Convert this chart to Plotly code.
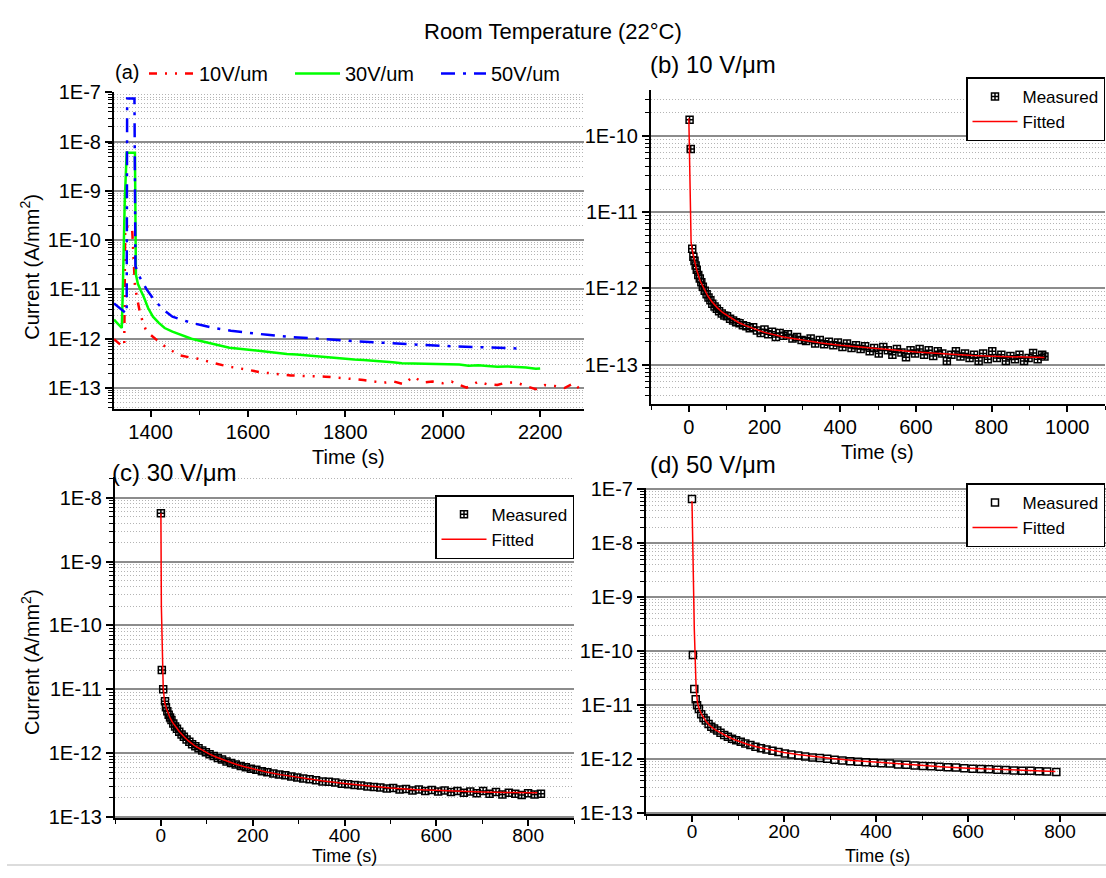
import plotly.graph_objects as go

W, H = 1106, 878

# ---------------- Panel (a) data ----------------
t_10 = [1325, 1333, 1341, 1346, 1348, 1362, 1368, 1372, 1378, 1384, 1390, 1400, 1410, 1425, 1440,
        1460, 1480, 1500, 1530, 1562, 1595, 1625, 1655, 1688, 1720, 1759, 1798, 1837, 1877, 1900,
        1920, 1939, 1960, 1979, 2000, 2018, 2035, 2049, 2073, 2090, 2112, 2130, 2151, 2170, 2191,
        2210, 2230, 2250, 2269, 2285]
i_10 = [9.8e-13, 8.5e-13, 7.2e-13, 7.0e-13, 1.9e-10, 1.9e-10, 1.2e-11, 7e-12, 3.5e-12, 2.2e-12,
        1.55e-12, 1.2e-12, 9.8e-13, 7.5e-13, 6.0e-13, 4.6e-13, 4.2e-13, 3.9e-13, 3.2e-13, 2.7e-13,
        2.4e-13, 2.1e-13, 1.95e-13, 1.8e-13, 1.75e-13, 1.7e-13, 1.58e-13, 1.45e-13, 1.28e-13, 1.35e-13,
        1.2e-13, 1.7e-13, 1.3e-13, 1.35e-13, 1.25e-13, 1.35e-13, 1.15e-13, 1.02e-13, 1.35e-13, 1.2e-13,
        1.15e-13, 1.3e-13, 1.3e-13, 1.1e-13, 9.5e-14, 1.15e-13, 1.1e-13, 1.0e-13, 1.25e-13, 8.8e-14]

t_30 = [1325, 1333, 1341, 1343, 1347, 1351, 1360, 1368, 1370, 1374, 1380, 1386, 1395, 1405, 1417,
        1429, 1445, 1460, 1484, 1503, 1523, 1542, 1562, 1582, 1602, 1621, 1641, 1660, 1680, 1700,
        1720, 1740, 1759, 1778, 1798, 1818, 1837, 1857, 1877, 1897, 1916, 1935, 1955, 1975, 1994,
        2014, 2034, 2053, 2073, 2092, 2112, 2131, 2151, 2171, 2191, 2200]
i_30 = [2.45e-12, 2.0e-12, 1.65e-12, 8.9e-12, 5.9e-10, 5.9e-9, 5.9e-9, 5.9e-9, 2.0e-11, 1.3e-11,
        9.5e-12, 7.1e-12, 4.2e-12, 2.8e-12, 2.1e-12, 1.65e-12, 1.4e-12, 1.22e-12, 1.0e-12, 9.0e-13,
        8.1e-13, 7.3e-13, 6.6e-13, 6.3e-13, 6.0e-13, 5.6e-13, 5.3e-13, 5.1e-13, 4.9e-13, 4.8e-13,
        4.6e-13, 4.4e-13, 4.2e-13, 4.0e-13, 3.9e-13, 3.8e-13, 3.7e-13, 3.6e-13, 3.5e-13, 3.35e-13,
        3.2e-13, 3.15e-13, 3.1e-13, 3.05e-13, 3.0e-13, 2.95e-13, 3.0e-13, 2.85e-13, 2.9e-13, 2.8e-13,
        2.7e-13, 2.75e-13, 2.7e-13, 2.6e-13, 2.45e-13, 2.5e-13]

t_50 = [1325, 1338, 1351, 1352, 1367, 1369, 1375, 1382, 1392, 1405, 1425, 1445, 1465, 1484, 1508,
        1531, 1565, 1602, 1640, 1680, 1720, 1759, 1798, 1837, 1877, 1916, 1955, 1994, 2034, 2073,
        2112, 2140, 2165]
i_50 = [5.2e-12, 4.0e-12, 3.2e-12, 7.5e-8, 7.5e-8, 3e-11, 2.0e-11, 1.5e-11, 1.0e-11, 6.6e-12,
        4.0e-12, 2.8e-12, 2.4e-12, 2.1e-12, 1.85e-12, 1.65e-12, 1.45e-12, 1.3e-12, 1.2e-12, 1.1e-12,
        1.05e-12, 9.8e-13, 9.2e-13, 8.7e-13, 8.2e-13, 7.8e-13, 7.5e-13, 7.2e-13, 7.0e-13, 6.9e-13,
        6.7e-13, 6.5e-13, 6.3e-13]

# ---------------- Panel (b) 10 V/um (values in units of 1e-13 A/mm2) ----------------
tb_meas = [2, 5, 9, 12, 15, 18, 21, 25, 29, 33, 37, 42, 47, 52, 57, 62, 68, 74, 80, 87, 94, 101,
           109, 117, 125, 134, 143, 152, 161, 170, 180, 190, 200, 210, 220, 230, 240, 250, 262, 274,
           286, 298, 310, 322, 334, 346, 358, 370, 382, 394, 406, 418, 430, 442, 454, 466, 478, 490,
           502, 514, 526, 538, 550, 562, 574, 586, 598, 610, 622, 634, 646, 658, 670, 682, 694, 706,
           718, 730, 742, 754, 766, 778, 790, 802, 814, 826, 838, 850, 862, 874, 886, 898, 910, 922,
           934, 940]
ib_meas = [1630, 670, 33, 26, 23, 20, 17.5, 15, 13.5, 12, 10.5, 9.3, 8.4, 7.6, 7.0, 6.3, 5.8, 5.4,
           5.0, 4.7, 4.4, 4.3, 4.0, 3.8, 3.6, 3.5, 3.3, 3.2, 3.0, 3.1, 2.8, 2.6, 2.9, 2.5, 2.7, 2.3,
           2.6, 2.4, 2.5, 2.2, 2.3, 2.1, 2.05, 2.2, 1.9, 2.1, 1.85, 2.0, 1.8, 1.95, 1.7, 1.9, 1.65,
           1.8, 1.6, 1.75, 1.5, 1.65, 1.4, 1.7, 1.55, 1.35, 1.6, 1.45, 1.25, 1.55, 1.4, 1.6, 1.35,
           1.55, 1.3, 1.5, 1.4, 1.12, 1.35, 1.5, 1.28, 1.4, 1.22, 1.35, 1.12, 1.4, 1.18, 1.5, 1.22,
           1.35, 1.12, 1.3, 1.18, 1.35, 1.12, 1.22, 1.42, 1.18, 1.35, 1.28]
tb_fit = [0, 6, 10, 15, 20, 30, 40, 50, 60, 75, 90, 110, 130, 150, 175, 200, 250, 300, 350, 400,
          450, 500, 550, 600, 650, 700, 750, 800, 850, 900, 940]
ib_fit = [1700, 40, 30, 23, 18, 12.5, 9.8, 8.0, 6.8, 5.6, 4.8, 4.1, 3.6, 3.25, 2.9, 2.65, 2.3,
          2.1, 1.93, 1.8, 1.7, 1.62, 1.55, 1.47, 1.41, 1.36, 1.32, 1.29, 1.27, 1.25, 1.24]

# ---------------- Panel (c) 30 V/um ----------------
tc_meas = [0, 2, 5, 9, 11, 14, 17, 20, 23, 27, 31, 35, 40, 45, 50, 56, 62, 68, 75, 82, 90, 98,
           106, 115, 124, 133, 143, 153, 163, 174, 185, 196, 208, 220, 232, 245, 258, 271, 284, 297,
           310, 324, 338, 352, 366, 380, 394, 408, 422, 436, 450, 464, 478, 492, 506, 520, 534, 548,
           562, 576, 590, 604, 618, 632, 646, 660, 674, 688, 702, 716, 730, 744, 758, 772, 786, 800,
           814, 828]
ic_meas = [57000, 200, 100, 65, 52, 45, 40, 36, 33, 29, 26, 24, 21.5, 19.5, 18, 16.3, 15, 13.8,
           12.8, 11.9, 11, 10.3, 9.6, 9.0, 8.4, 7.9, 7.4, 7.0, 6.6, 6.3, 6.0, 5.7, 5.5, 5.2, 5.0,
           4.8, 4.6, 4.5, 4.3, 4.15, 4.0, 3.9, 3.75, 3.6, 3.55, 3.45, 3.3, 3.25, 3.15, 3.1, 3.0,
           2.95, 2.9, 2.8, 2.85, 2.7, 2.75, 2.6, 2.7, 2.55, 2.65, 2.5, 2.6, 2.45, 2.55, 2.4, 2.5,
           2.35, 2.55, 2.3, 2.45, 2.25, 2.4, 2.3, 2.2, 2.35, 2.25, 2.3]
tc_fit = [0, 1, 5, 8, 12, 16, 20, 25, 30, 40, 50, 60, 75, 90, 105, 120, 140, 160, 180, 200, 230,
          260, 300, 350, 400, 450, 500, 550, 600, 650, 700, 750, 800, 820]
ic_fit = [57000, 2000, 110, 62, 50, 41, 35.5, 30.5, 27, 21.8, 18.2, 15.5, 12.8, 11, 9.7, 8.7,
          7.6, 6.8, 6.15, 5.65, 5.05, 4.6, 4.15, 3.7, 3.35, 3.05, 2.85, 2.7, 2.6, 2.52, 2.46,
          2.42, 2.4, 2.4]

# ---------------- Panel (d) 50 V/um ----------------
td_meas = [0, 2, 5, 8, 11, 15, 20, 25, 30, 36, 42, 48, 55, 62, 70, 78, 87, 96, 106, 116, 127, 138,
           150, 162, 175, 188, 202, 216, 231, 246, 262, 278, 294, 310, 327, 344, 361, 378, 395, 412,
           430, 448, 466, 484, 502, 520, 538, 556, 574, 592, 610, 628, 646, 664, 682, 700, 718, 736,
           754, 772, 792]
id_meas = [660000, 850, 200, 130, 100, 85, 68, 58, 52, 45, 40, 37, 34, 31, 28, 26, 24, 22.5, 21,
           19.5, 18.3, 17, 16, 15.2, 14.3, 13.6, 12.8, 12.3, 11.8, 11.3, 10.8, 10.5, 10.2, 9.8,
           9.5, 9.2, 9.0, 8.8, 8.6, 8.4, 8.3, 8.0, 7.9, 7.7, 7.5, 7.4, 7.3, 7.1, 7.0, 6.8, 6.7,
           6.6, 6.5, 6.4, 6.3, 6.2, 6.15, 6.1, 6.0, 5.95, 5.8]
td_fit = [0, 2, 5, 9, 12, 15, 20, 30, 40, 50, 60, 75, 90, 105, 120, 140, 160, 180, 200, 230, 260,
          300, 350, 400, 450, 500, 550, 600, 650, 700, 750, 790]
id_fit = [600000, 63000, 2600, 200, 110, 88, 70, 51, 41, 35.5, 31.5, 27, 23.5, 21, 19, 17, 15.5,
          14.3, 13.3, 12.2, 11.3, 10.4, 9.5, 8.8, 8.2, 7.6, 7.2, 6.85, 6.55, 6.3, 6.1, 5.95]

UNIT = 1e-13

# tick labels
exps = [-13, -12, -11, -10, -9, -8, -7]
major_vals = [10.0 ** e for e in exps]
major_text = ["1E%d" % e for e in exps]
minor_vals = [k * 10.0 ** e for e in range(-14, -6) for k in range(2, 10)]

FONT = "Arial, Liberation Sans, sans-serif"


def px_x(p):
    return p / W


def px_y(p):
    return 1 - p / H


def yax(dom, rng, anchor):
    return dict(type="log", domain=[px_y(dom[1]), px_y(dom[0])], range=rng, anchor=anchor,
                tickmode="array", tickvals=major_vals, ticktext=major_text,
                ticks="outside", ticklen=7, tickwidth=1.5, tickcolor="black",
                showline=True, linecolor="black", linewidth=2,
                showgrid=True, gridcolor="#8c8c8c", gridwidth=1.5, zeroline=False,
                tickfont=dict(size=20, family=FONT, color="black"),
                minor=dict(tickmode="array", tickvals=minor_vals, ticks="outside", ticklen=4,
                           tickcolor="black", tickwidth=1, showgrid=True, gridcolor="#b4b4b4",
                           griddash="1px,2px", gridwidth=1))


def xax(dom, rng, anchor, fsize=20, standoff=-2):
    return dict(domain=[px_x(dom[0]), px_x(dom[1])], range=rng, anchor=anchor,
                tick0=0, dtick=200, ticks="outside", ticklen=6, tickwidth=1.5, tickcolor="black",
                showline=True, linecolor="black", linewidth=2, showgrid=False, zeroline=False,
                ticklabelstandoff=standoff,
                tickfont=dict(size=fsize, family=FONT, color="black"),
                minor=dict(tick0=0, dtick=100, ticks="outside", ticklen=4, tickcolor="black",
                           tickwidth=1, showgrid=False))


fig = go.Figure()

# Panel (a)
fig.add_trace(go.Scatter(x=t_10, y=i_10, mode="lines", name="10V/um", legend="legend",
                         line=dict(color="#ff0000", width=2.5, dash="8px,8px,2px,8px,2px,8px"),
                         xaxis="x", yaxis="y"))
fig.add_trace(go.Scatter(x=t_30, y=i_30, mode="lines", name="30V/um", legend="legend",
                         line=dict(color="#00ff00", width=2.5), xaxis="x", yaxis="y"))
fig.add_trace(go.Scatter(x=t_50, y=i_50, mode="lines", name="50V/um", legend="legend",
                         line=dict(color="#0000ff", width=2.5, dash="14px,8px,3px,8px"),
                         xaxis="x", yaxis="y"))

panels = [
    (tb_meas, ib_meas, tb_fit, ib_fit, "x2", "y2", "legend2", "square-cross-open"),
    (tc_meas, ic_meas, tc_fit, ic_fit, "x3", "y3", "legend3", "square-cross-open"),
    (td_meas, id_meas, td_fit, id_fit, "x4", "y4", "legend4", "square-open"),
]
for tm, im, tf, iff, xa, ya, lg, sym in panels:
    fig.add_trace(go.Scatter(x=tm, y=[v * UNIT for v in im], mode="markers", name="Measured",
                             legend=lg, marker=dict(symbol=sym, size=7, color="black",
                                                    line=dict(width=1.5, color="black")),
                             xaxis=xa, yaxis=ya))
    fig.add_trace(go.Scatter(x=tf, y=[v * UNIT for v in iff], mode="lines", name="Fitted",
                             legend=lg, line=dict(color="#ff0000", width=1.5),
                             xaxis=xa, yaxis=ya))

box_legend = dict(bgcolor="white", bordercolor="black", borderwidth=1.5,
                  font=dict(size=17, family=FONT, color="black"), orientation="v",
                  xanchor="right", yanchor="top", tracegroupgap=0, itemwidth=45)

fig.update_layout(
    width=W, height=H, margin=dict(l=0, r=0, t=0, b=0),
    paper_bgcolor="white", plot_bgcolor="white",
    font=dict(family=FONT, color="black"),
    xaxis=xax((114, 584), [1325, 2290], "y"),
    yaxis=yax((83, 408), [-13.43, -6.995], "x"),
    xaxis2=xax((651, 1105), [-100, 1100], "y2"),
    yaxis2=yax((81, 403), [-13.52, -9.40], "x2"),
    xaxis3=xax((115, 574), [-100, 900], "y3", 19, -7),
    yaxis3=yax((477, 827), [-13.02, -7.67], "x3"),
    xaxis4=xax((646, 1106), [-100, 900], "y4", 19, -7),
    yaxis4=yax((489, 823), [-13.02, -6.98], "x4"),
    legend=dict(orientation="h", x=px_x(144), y=px_y(44), xanchor="left", yanchor="top",
                font=dict(size=20, family=FONT, color="black"), bgcolor="rgba(0,0,0,0)",
                itemwidth=45, entrywidthmode="pixels", entrywidth=86),
    legend2=dict(box_legend, x=px_x(1105), y=px_y(68)),
    legend3=dict(box_legend, x=px_x(574), y=px_y(496)),
    legend4=dict(box_legend, x=px_x(1105), y=px_y(484)),
    shapes=[dict(type="line", xref="paper", yref="paper", x0=px_x(7), x1=1, y0=px_y(875),
                 y1=px_y(875), line=dict(color="#dcdcdc", width=2))],
)

ann = []


def text(x, y, s, size, angle=0, xanchor="center", yanchor="middle"):
    ann.append(dict(x=px_x(x), y=px_y(y), xref="paper", yref="paper", text=s, showarrow=False,
                    font=dict(size=size, family=FONT, color="black"), textangle=angle,
                    xanchor=xanchor, yanchor=yanchor, borderpad=0))


text(553, 21, "Room Temperature (22°C)", 22)
text(114, 63, "(a)", 20, xanchor="left")
text(649, 55, "(b) 10 V/μm", 24, xanchor="left")
text(111, 473, "(c) 30 V/μm", 24, xanchor="left")
text(649, 465, "(d) 50 V/μm", 24, xanchor="left")
text(348, 457, "Time (s)", 20)
text(877, 452, "Time (s)", 20)
text(344, 877, "Time (s)", 18, yanchor="bottom")
text(878, 877, "Time (s)", 18, yanchor="bottom")
text(30, 262, "Current (A/mm<sup>2</sup>)", 20, angle=-90)
text(30, 667, "Current (A/mm<sup>2</sup>)", 20, angle=-90)
fig.update_layout(annotations=ann)

fig.write_html("out.html")
